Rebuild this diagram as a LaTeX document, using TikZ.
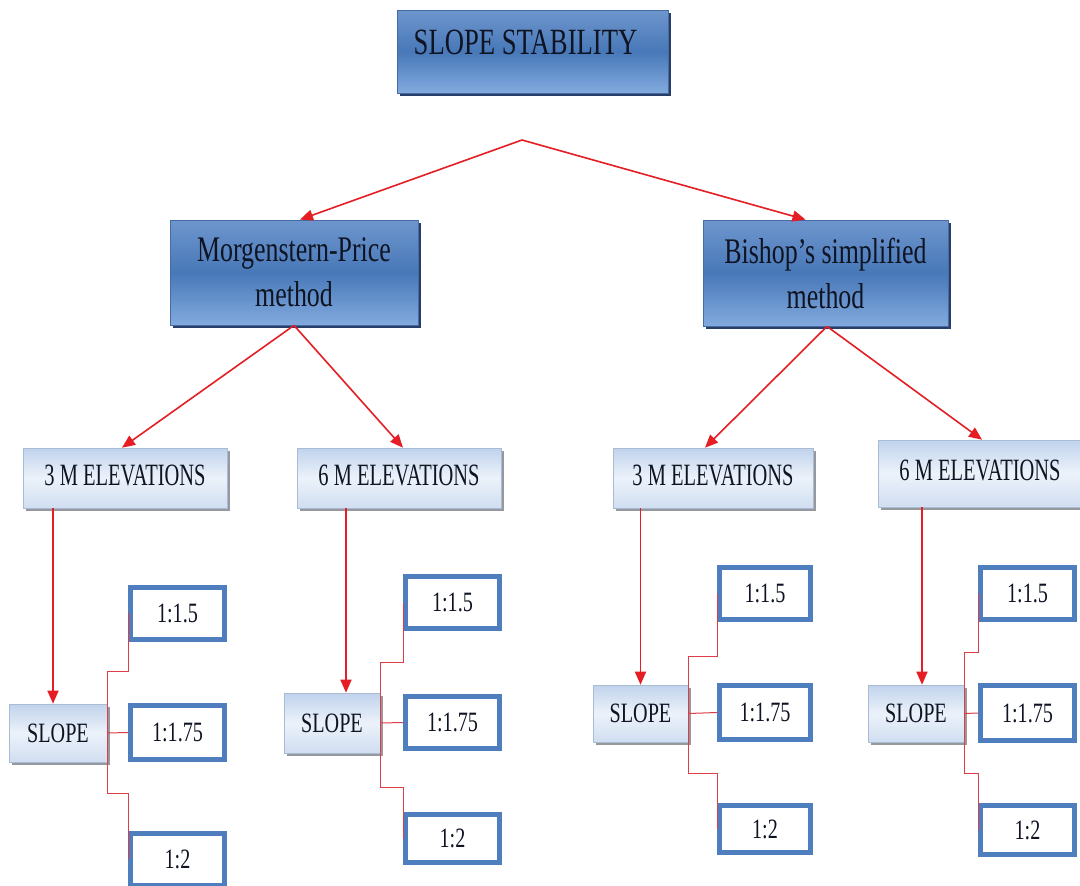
\documentclass[tikz,border=0pt]{standalone}
\usepackage{fontspec}
\setmainfont{Liberation Serif}[FakeStretch=0.72]
\newfontfamily\elevfont{Liberation Serif}[FakeStretch=0.66]
\usetikzlibrary{arrows.meta,shadows}
\definecolor{dtop}{RGB}{110,150,205}
\definecolor{dmid}{RGB}{72,120,184}
\definecolor{dbot}{RGB}{130,170,222}
\definecolor{dborder}{RGB}{70,108,165}
\definecolor{dshadow}{RGB}{40,62,102}
\definecolor{ltop}{RGB}{192,211,236}
\definecolor{lmid}{RGB}{236,242,250}
\definecolor{lbot}{RGB}{208,222,241}
\definecolor{lborder}{RGB}{168,188,214}
\definecolor{lshadow}{RGB}{150,152,158}
\definecolor{boxblue}{RGB}{79,126,190}
\definecolor{arrred}{RGB}{228,30,36}
\definecolor{brkred}{RGB}{222,60,70}
\definecolor{txt}{RGB}{15,20,35}
\begin{document}
\begin{tikzpicture}[x=1pt,y=-1pt,
  dark/.style={draw=dborder, line width=0.8pt, top color=dtop, bottom color=dbot, middle color=dmid,
    drop shadow={shadow xshift=3pt, shadow yshift=-3pt, fill=dshadow, opacity=1},
    inner sep=0pt, align=center, text=txt},
  light/.style={draw=lborder, line width=0.6pt, top color=ltop, bottom color=lbot, middle color=lmid,
    drop shadow={shadow xshift=3pt, shadow yshift=-3pt, fill=lshadow, opacity=1},
    inner sep=0pt, align=center, text=txt},
  elev/.style={light, minimum width=204pt, minimum height=60pt, text height=20pt, text depth=6pt,
    font=\elevfont\fontsize{31}{36}\selectfont},
  slope/.style={light, minimum width=96pt, minimum height=58pt, font=\fontsize{28}{34}\selectfont},
  ratio/.style={draw=boxblue, line width=5pt, fill=white, inner sep=0pt, text=txt,
    minimum width=94pt, minimum height=52pt, font=\fontsize{28}{34}\selectfont},
  arr/.style={draw=arrred, line width=1.6pt, -{Triangle[length=13pt,width=11pt]}},
  brk/.style={draw=brkred, line width=1pt}
]
\useasboundingbox (0,0) rectangle (1080,886);
\fill[white] (0,0) rectangle (1080,886);

% top level
\node[dark, minimum width=271pt, minimum height=83pt, text height=26pt, text depth=21pt,
  font=\fontsize{37}{45}\selectfont] (T) at (532.5,51.5) {SLOPE STABILITY\hspace*{14pt}};
\node[dark, minimum width=248pt, minimum height=105pt, font=\fontsize{36}{45}\selectfont]
  (MP) at (294,272.5) {Morgenstern-Price\\method};
\node[dark, minimum width=245pt, minimum height=106pt, font=\fontsize{36}{45}\selectfont]
  (BS) at (825.5,273) {Bishop’s simplified\\method};
\coordinate (apex) at (522,140);

% elevations
\node[elev] (E1) at (125,478) {3 M ELEVATIONS};
\node[elev] (E2) at (399,478) {6 M ELEVATIONS};
\node[elev, minimum width=200pt] (E3) at (713,478) {3 M ELEVATIONS};
\node[elev, minimum height=67pt] (E4) at (980,473.5) {6 M ELEVATIONS};

% slopes
\node[slope, minimum width=98pt] (S1) at (58,733) {SLOPE};
\node[slope, minimum height=60pt] (S2) at (332,723) {SLOPE};
\node[slope, minimum width=95pt, minimum height=57pt] (S3) at (640.5,713.5) {SLOPE};
\node[slope, minimum height=57pt] (S4) at (916,713.5) {SLOPE};

% ratio boxes
\node[ratio] (A1) at (177.5,613) {1:1.5};
\node[ratio, minimum height=54pt] (B1) at (177.5,732.5) {1:1.75};
\node[ratio] (C1) at (177.5,859) {1:2};
\node[ratio] (A2) at (452.5,602.5) {1:1.5};
\node[ratio] (B2) at (452.5,722.5) {1:1.75};
\node[ratio, minimum height=48pt] (C2) at (452.5,838.5) {1:2};
\node[ratio, minimum width=91pt] (A3) at (765,593.5) {1:1.5};
\node[ratio, minimum width=91pt, minimum height=54pt] (B3) at (765,712.5) {1:1.75};
\node[ratio, minimum width=91pt, minimum height=47pt] (C3) at (765,829) {1:2};
\node[ratio] (A4) at (1027.5,593.5) {1:1.5};
\node[ratio, minimum height=55pt] (B4) at (1027.5,713) {1:1.75};
\node[ratio, minimum height=49pt] (C4) at (1027.5,830) {1:2};

% arrows
\draw[arr] (apex) -- ([xshift=6pt]MP.north);
\draw[arr] (apex) -- ([xshift=-20pt]BS.north);
\draw[arr] (MP.south) -- ([xshift=-3pt]E1.north);
\draw[arr] (MP.south) -- ([xshift=4pt]E2.north);
\draw[arr] ([xshift=1.5pt]BS.south) -- ([xshift=-8pt]E3.north);
\draw[arr] ([xshift=1.5pt]BS.south) -- ([xshift=2pt]E4.north);

\draw[arr] ([xshift=-5pt]S1.north |- E1.south) -- ([xshift=-5pt]S1.north);
\draw[arr] ([xshift=14pt]S2.north |- E2.south) -- ([xshift=14pt]S2.north);
\draw[arr] (S3.north |- E3.south) -- (S3.north);
\draw[arr] ([xshift=6pt]S4.north |- E4.south) -- ([xshift=6pt]S4.north);

% brackets
\draw[brk] (A1.west) |- ([yshift=32pt]S1.north east) -- ([yshift=-31pt]S1.south east) -| (C1.west);
\draw[brk] (S1.east) -- (B1.west);
\draw[brk] (A2.west) |- ([yshift=30pt]S2.north east) -- ([yshift=-34pt]S2.south east) -| (C2.west);
\draw[brk] (S2.east) -- (B2.west);
\draw[brk] (A3.west) |- ([yshift=28pt]S3.north east) -- ([yshift=-31pt]S3.south east) -| (C3.west);
\draw[brk] (S3.east) -- (B3.west);
\draw[brk] (A4.west) |- ([yshift=32pt]S4.north east) -- ([yshift=-31pt]S4.south east) -| (C4.west);
\draw[brk] (S4.east) -- (B4.west);
\end{tikzpicture}
\end{document}
